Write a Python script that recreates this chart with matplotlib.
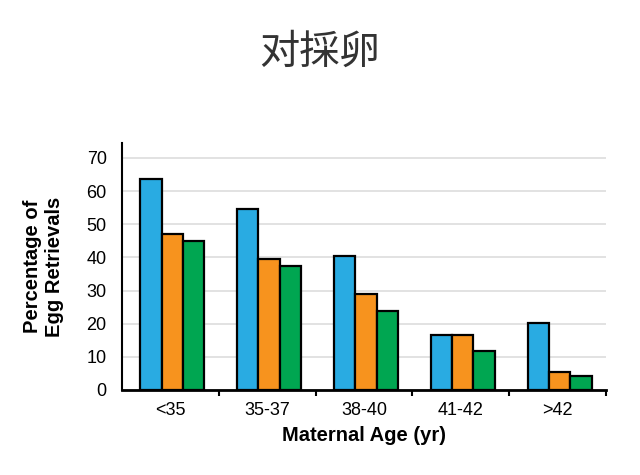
import matplotlib.pyplot as plt
import numpy as np

categories = ['<35', '35-37', '38-40', '41-42', '>42']
blue_vals = [63.6, 54.5, 40.3, 16.6, 20.1]
orange_vals = [47.1, 39.5, 28.9, 16.6, 5.5]
green_vals = [45.0, 37.4, 23.9, 11.7, 4.2]

colors = ['#29abe2', '#f7931e', '#00a651']

fig = plt.figure(figsize=(6.4, 4.75), dpi=100)
ax = fig.add_axes([0.1906, 0.179, 0.7564, 0.52])

x = np.arange(len(categories))
w = 0.22
for i, vals in enumerate([blue_vals, orange_vals, green_vals]):
    ax.bar(x + (i - 1) * w + 0.02, vals, width=w, color=colors[i],
           edgecolor='black', linewidth=1.6, zorder=3)

ax.set_xlim(-0.5, len(categories) - 0.5)
ax.set_ylim(0, 74.5)
ax.set_yticks(range(0, 80, 10))
ax.yaxis.grid(True, color='#dddddd', linewidth=1.2, zorder=0)
ax.tick_params(axis='y', length=0, labelsize=13, pad=11)

# category labels centered, tick marks at group boundaries
ax.set_xticks(x)
ax.set_xticklabels(categories, fontsize=13, family='Liberation Sans')
ax.tick_params(axis='x', length=0, pad=9)
ax.set_xticks(np.arange(len(categories)) + 0.5, minor=True)
ax.tick_params(axis='x', which='minor', length=4, width=1.5, direction='out')

for lbl in ax.get_yticklabels():
    lbl.set_family('Liberation Sans')

for s in ['top', 'right']:
    ax.spines[s].set_visible(False)
ax.spines['left'].set_linewidth(1.5)
ax.spines['bottom'].set_linewidth(2)

ax.set_xlabel('Maternal Age (yr)', fontsize=14.5, fontweight='bold',
              family='Liberation Sans', labelpad=5)
ax.set_ylabel('Percentage of\nEgg Retrievals', fontsize=14.5, fontweight='bold',
              family='Liberation Sans', labelpad=16, linespacing=1.2)

fig.text(0.5, 0.89, '对採卵', ha='center', va='center', fontsize=29,
         color='#333333', family=['Noto Sans CJK JP', 'Noto Sans CJK SC'])

fig.savefig('out.png', dpi=100)
